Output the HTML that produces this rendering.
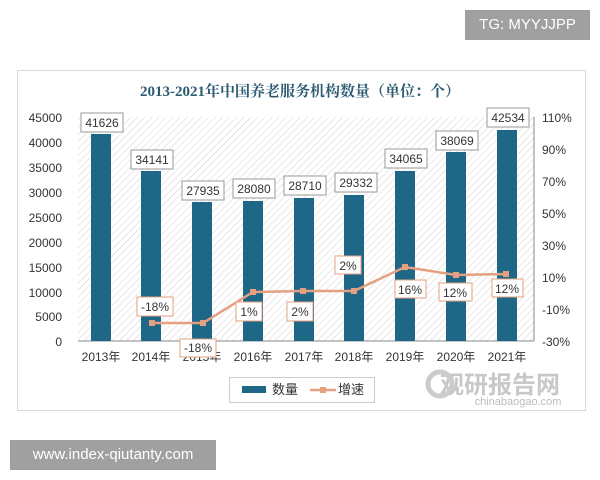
<!DOCTYPE html>
<html><head><meta charset="utf-8"><style>
body{margin:0;width:600px;height:480px;background:#fff;overflow:hidden;position:relative;font-family:"Liberation Sans","Noto Sans CJK SC",sans-serif}
.tg{position:absolute;left:465px;top:10px;width:125px;height:30px;background:#a0a0a0;color:#fff;font-size:15px;line-height:30px;text-align:center}
.www{position:absolute;left:10px;top:440px;width:206px;height:30px;background:#a0a0a0;color:#fff;font-size:15px;line-height:30px;text-align:center}
</style></head><body>
<div class="tg">TG: MYYJJPP</div>
<svg width="600" height="480" style="position:absolute;left:0;top:0">
<defs><pattern id="h" width="5" height="5" patternUnits="userSpaceOnUse" patternTransform="rotate(45)"><line x1="0" y1="0" x2="0" y2="5" stroke="#d4d4d4" stroke-width="1"/></pattern></defs>
<rect x="17.5" y="70.5" width="568" height="340" fill="#fff" stroke="#d8d8d8"/>
<rect x="78" y="117" width="456" height="224" fill="url(#h)"/>
<text x="300" y="96" text-anchor="middle" font-family="Liberation Serif,Noto Serif CJK SC,serif" font-size="15" font-weight="bold" fill="#2c5b73">2013-2021年中国养老服务机构数量（单位：个）</text>
<g font-size="12" fill="#333" text-anchor="end">
<text x="62" y="122">45000</text><text x="62" y="147">40000</text><text x="62" y="172">35000</text><text x="62" y="197">30000</text><text x="62" y="222">25000</text><text x="62" y="247">20000</text><text x="62" y="272">15000</text><text x="62" y="297">10000</text><text x="62" y="321">5000</text><text x="62" y="346">0</text>
</g>
<g font-size="12" fill="#333">
<text x="542" y="122">110%</text><text x="542" y="154">90%</text><text x="542" y="186">70%</text><text x="542" y="218">50%</text><text x="542" y="250">30%</text><text x="542" y="282">10%</text><text x="542" y="314">-10%</text><text x="542" y="346">-30%</text>
</g>
<line x1="78" y1="341" x2="534" y2="341" stroke="#888"/>
<line x1="534" y1="117" x2="534" y2="341" stroke="#888"/>
<g fill="#1e6787">
<rect x="91" y="134" width="20" height="207"/>
<rect x="141" y="171" width="20" height="170"/>
<rect x="192" y="202" width="20" height="139"/>
<rect x="243" y="201" width="20" height="140"/>
<rect x="294" y="198" width="20" height="143"/>
<rect x="344" y="195" width="20" height="146"/>
<rect x="395" y="171" width="20" height="170"/>
<rect x="446" y="152" width="20" height="189"/>
<rect x="497" y="130" width="20" height="211"/>
</g>
<g font-size="12" fill="#333" text-anchor="middle">
<text x="101" y="361">2013年</text><text x="151" y="361">2014年</text><text x="202" y="361">2015年</text><text x="253" y="361">2016年</text><text x="304" y="361">2017年</text><text x="354" y="361">2018年</text><text x="405" y="361">2019年</text><text x="456" y="361">2020年</text><text x="507" y="361">2021年</text>
</g>
<polyline points="152,323 203,323 253,292 303,291 354,291 405,267 456,275 506,274" fill="none" stroke="#e4a080" stroke-width="2.5"/>
<g fill="#e4a080"><rect x="149" y="320" width="6" height="6"/><rect x="200" y="320" width="6" height="6"/><rect x="250" y="289" width="6" height="6"/><rect x="300" y="288" width="6" height="6"/><rect x="351" y="288" width="6" height="6"/><rect x="402" y="264" width="6" height="6"/><rect x="453" y="272" width="6" height="6"/><rect x="503" y="271" width="6" height="6"/></g>
<g font-size="12" fill="#333" text-anchor="middle">
<g stroke="#999" fill="#fff">
<rect x="81" y="113" width="42" height="19"/><rect x="131" y="150" width="42" height="19"/><rect x="182" y="181" width="42" height="19"/><rect x="233" y="179" width="42" height="19"/><rect x="284" y="176" width="42" height="19"/><rect x="335" y="173" width="42" height="19"/><rect x="385" y="149" width="42" height="19"/><rect x="436" y="131" width="42" height="19"/><rect x="487" y="108" width="42" height="19"/>
</g>
<text x="102" y="127">41626</text><text x="152" y="164">34141</text><text x="203" y="195">27935</text><text x="254" y="193">28080</text><text x="305" y="190">28710</text><text x="356" y="187">29332</text><text x="406" y="163">34065</text><text x="457" y="145">38069</text><text x="508" y="122">42534</text>
<g stroke="#e4a080" fill="#fff">
<rect x="137" y="297" width="36" height="19"/><rect x="180" y="339" width="36" height="18"/><rect x="236" y="302" width="26" height="19"/><rect x="287" y="302" width="26" height="19"/><rect x="335" y="256" width="26" height="18"/><rect x="395" y="280" width="31" height="18"/><rect x="439" y="283" width="33" height="18"/><rect x="492" y="279" width="31" height="18"/>
</g>
<text x="155" y="311">-18%</text><text x="198" y="352">-18%</text><text x="249" y="316">1%</text><text x="300" y="316">2%</text><text x="348" y="270">2%</text><text x="410" y="294">16%</text><text x="455" y="297">12%</text><text x="507" y="293">12%</text>
</g>
<rect x="229.5" y="377.5" width="145" height="25" fill="#fff" stroke="#ccc"/>
<rect x="242" y="386" width="24" height="7" fill="#1e6787"/>
<text x="272" y="394" font-size="13" fill="#333">数量</text>
<line x1="310" y1="390" x2="336" y2="390" stroke="#e4a080" stroke-width="2.5"/><rect x="320" y="387" width="6" height="6" fill="#e4a080"/>
<text x="338" y="394" font-size="13" fill="#333">增速</text>
<text x="500" y="393" text-anchor="middle" font-size="24" font-weight="bold" fill="#c8c8c8">观研报告网</text>
<circle cx="440" cy="384" r="12" fill="none" stroke="#ccc" stroke-width="5"/>
<text x="518" y="405" text-anchor="middle" font-size="11" fill="#bbb">chinabaogao.com</text>
</svg>
<div class="www">www.index-qiutanty.com</div>
</body></html>
